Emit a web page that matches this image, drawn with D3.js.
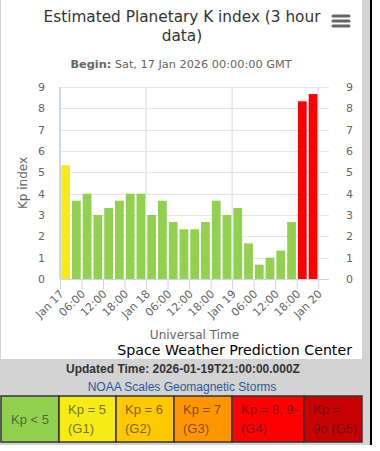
<!DOCTYPE html>
<html>
<head>
<meta charset="utf-8">
<script src="https://cdn.jsdelivr.net/npm/d3@7"></script>
<style>
body { margin: 0; background: #fff; }
text { font-family: 'DejaVu Sans', sans-serif; }
.html-text { font-family: 'Liberation Sans', Arial, sans-serif; }
</style>
</head>
<body>
<div id="chart"></div>
<script>
// data
var timeTags = [
	'2026-01-17T00:00:00Z', '2026-01-17T03:00:00Z', '2026-01-17T06:00:00Z', '2026-01-17T09:00:00Z',
	'2026-01-17T12:00:00Z', '2026-01-17T15:00:00Z', '2026-01-17T18:00:00Z', '2026-01-17T21:00:00Z',
	'2026-01-18T00:00:00Z', '2026-01-18T03:00:00Z', '2026-01-18T06:00:00Z', '2026-01-18T09:00:00Z',
	'2026-01-18T12:00:00Z', '2026-01-18T15:00:00Z', '2026-01-18T18:00:00Z', '2026-01-18T21:00:00Z',
	'2026-01-19T00:00:00Z', '2026-01-19T03:00:00Z', '2026-01-19T06:00:00Z', '2026-01-19T09:00:00Z',
	'2026-01-19T12:00:00Z', '2026-01-19T15:00:00Z', '2026-01-19T18:00:00Z', '2026-01-19T21:00:00Z'
];
var kpValues = [5.33, 3.67, 4, 3, 3.33, 3.67, 4, 4, 3, 3.67, 2.67, 2.33,
	2.33, 2.67, 3.67, 3, 3.33, 1.67, 0.67, 1, 1.33, 2.67, 8.33, 8.67];
var kpTicks = [0, 1, 2, 3, 4, 5, 6, 7, 8, 9];
var xStart = '2026-01-17T00:00:00Z', xEnd = '2026-01-20T03:00:00Z';

var legendLines = [['Kp < 5'], ['Kp = 5', '(G1)'], ['Kp = 6', '(G2)'], ['Kp = 7', '(G3)'],
	['Kp = 8, 9-', '(G4)'], ['Kp =', '9o (G5)']];
var legendColors = ['#92d050', '#f6eb14', '#ffc800', '#ff9600', '#ff0000', '#c80000'];

var titleLines = ['Estimated Planetary K index (3 hour', 'data)'];
var subtitle = ['Begin:', ' Sat, 17 Jan 2026 00:00:00 GMT'];
var updated = 'Updated Time: 2026-01-19T21:00:00.000Z';

function kpColor(kp) {
	if (kp < 5) return legendColors[0];
	if (kp < 6) return legendColors[1];
	if (kp < 7) return legendColors[2];
	if (kp < 8) return legendColors[3];
	if (kp < 9) return legendColors[4];
	return legendColors[5];
}

var width = 380, height = 451;
var svg = d3.select('#chart').append('svg').attr('width', width).attr('height', height);

// page frame
svg.append('rect').attr('x', 0).attr('y', 0).attr('width', 370).attr('height', 445).attr('fill', '#d3d3d3');
svg.append('rect').attr('x', 1).attr('y', 0).attr('width', 361).attr('height', 359).attr('fill', '#fff');
svg.append('rect').attr('x', 370).attr('y', 0).attr('width', 2).attr('height', 445).attr('fill', '#000');

// scales
var plot = {left: 60, right: 329, top: 87, bottom: 279};
var parse = d3.utcParse('%Y-%m-%dT%H:%M:%SZ');
var x = d3.scaleUtc().domain([parse(xStart), parse(xEnd)]).range([plot.left, plot.right]);
var y = d3.scaleLinear().domain([0, 9]).range([plot.bottom, plot.top]);

var data = timeTags.map(function(t, i) { return {t: parse(t), kp: kpValues[i]}; });

// horizontal grid
svg.append('g').selectAll('line')
	.data(kpTicks.slice(1))
	.enter().append('line')
	.attr('x1', plot.left).attr('x2', plot.right)
	.attr('y1', function(d) { return Math.round(y(d)) + 0.5; })
	.attr('y2', function(d) { return Math.round(y(d)) + 0.5; })
	.attr('stroke', '#e6e6e6');

// day grid
var days = d3.utcDay.range(parse(xStart), parse(xEnd));
svg.append('g').selectAll('line')
	.data(days)
	.enter().append('line')
	.attr('x1', function(d) { return x(d); }).attr('x2', function(d) { return x(d); })
	.attr('y1', plot.top).attr('y2', plot.bottom)
	.attr('stroke', function(d, i) { return i == 0 ? '#ccd6eb' : '#e6e6e6'; })
	.attr('stroke-width', function(d, i) { return i == 0 ? 2 : 1.5; });

// bars
var step = x(d3.utcHour.offset(data[0].t, 3)) - x(data[0].t);
svg.append('g').selectAll('rect')
	.data(data)
	.enter().append('rect')
	.attr('x', function(d) { return x(d.t) + 1.2; })
	.attr('width', step - 2)
	.attr('y', function(d) { return y(d.kp); })
	.attr('height', function(d) { return y(0) - y(d.kp); })
	.attr('fill', function(d) { return kpColor(d.kp); });

// x axis
var xAxis = d3.axisBottom(x)
	.ticks(d3.utcHour.every(6))
	.tickSize(10)
	.tickFormat(function(d) {
		return d.getUTCHours() == 0 ? d3.utcFormat('%b %d')(d).replace(' 0', ' ') : d3.utcFormat('%H:%M')(d);
	});
var gx = svg.append('g').attr('transform', 'translate(0,' + (plot.bottom + 0.5) + ')').call(xAxis);
gx.select('.domain').attr('stroke', '#ccd6eb').attr('d', 'M' + plot.left + ',0H' + plot.right);
gx.selectAll('.tick line').attr('stroke', '#ccd6eb');
gx.selectAll('.tick text')
	.attr('fill', '#666')
	.style('font-size', '11px')
	.attr('text-anchor', 'end')
	.attr('dy', null)
	.attr('y', 0)
	.attr('transform', 'translate(4,15) rotate(-45)');

// y axes
function styleY(g) {
	g.select('.domain').remove();
	g.selectAll('.tick line').remove();
	g.selectAll('.tick text').attr('fill', '#666').style('font-size', '11px');
}
svg.append('g').attr('transform', 'translate(' + (plot.left - 15) + ',0)')
	.call(d3.axisLeft(y).tickValues(kpTicks).tickSize(0).tickPadding(0)).call(styleY)
	.selectAll('.tick text').attr('x', 0);
svg.append('g').attr('transform', 'translate(' + (plot.right + 17) + ',0)')
	.call(d3.axisRight(y).tickValues(kpTicks).tickSize(0).tickPadding(0)).call(styleY)
	.selectAll('.tick text').attr('x', 0);

// titles
svg.append('g').selectAll('text')
	.data(titleLines)
	.enter().append('text')
	.attr('x', 182).attr('y', function(d, i) { return 22 + i * 19; })
	.attr('text-anchor', 'middle')
	.attr('fill', '#333')
	.style('font-size', '15.3px')
	.text(function(d) { return d; });

var sub = svg.append('text')
	.attr('x', 181).attr('y', 68)
	.attr('text-anchor', 'middle')
	.attr('fill', '#666')
	.style('font-size', '11.3px');
sub.append('tspan').style('font-weight', 'bold').text(subtitle[0]);
sub.append('tspan').text(subtitle[1]);

// menu icon
svg.append('g').selectAll('line')
	.data([16, 21, 26])
	.enter().append('line')
	.attr('x1', 333).attr('x2', 349)
	.attr('y1', function(d) { return d; }).attr('y2', function(d) { return d; })
	.attr('stroke', '#666').attr('stroke-width', 3).attr('stroke-linecap', 'round');

svg.append('text')
	.attr('transform', 'translate(27,' + ((plot.top + plot.bottom) / 2) + ') rotate(-90)')
	.attr('text-anchor', 'middle')
	.attr('fill', '#666')
	.style('font-size', '12px')
	.text('Kp index');

svg.append('text')
	.attr('x', (plot.left + plot.right) / 2).attr('y', 339)
	.attr('text-anchor', 'middle')
	.attr('fill', '#666')
	.style('font-size', '12px')
	.text('Universal Time');

svg.append('text')
	.attr('x', 352).attr('y', 355)
	.attr('text-anchor', 'end')
	.attr('fill', '#000')
	.style('font-size', '14.2px')
	.text('Space Weather Prediction Center');

// bottom info
svg.append('text')
	.attr('class', 'html-text')
	.attr('x', 183).attr('y', 373)
	.attr('text-anchor', 'middle')
	.attr('fill', '#333')
	.style('font-size', '12px').style('font-weight', 'bold')
	.text(updated);

svg.append('text')
	.attr('class', 'html-text')
	.attr('x', 182).attr('y', 391)
	.attr('text-anchor', 'middle')
	.attr('fill', '#1f5a9e')
	.style('font-size', '12px')
	.text('NOAA Scales Geomagnetic Storms');

// legend table
var cellEdges = [1, 59, 116, 174, 232, 304, 362];
var tableTop = 396, tableBottom = 442;
var cells = svg.append('g').selectAll('g')
	.data(legendLines)
	.enter().append('g')
	.attr('transform', function(d, i) { return 'translate(' + cellEdges[i] + ',' + tableTop + ')'; });
cells.append('rect')
	.attr('width', function(d, i) { return cellEdges[i + 1] - cellEdges[i]; })
	.attr('height', tableBottom - tableTop)
	.attr('fill', function(d, i) { return legendColors[i]; })
	.attr('stroke', '#333').attr('stroke-width', 1.5);
cells.each(function(lines, i) {
	var t = d3.select(this).append('text')
		.attr('class', 'html-text')
		.attr('fill', '#222').attr('fill-opacity', 0.62)
		.style('font-size', '13px');
	lines.forEach(function(l, j) {
		t.append('tspan')
			.attr('x', i == 0 ? 10 : 9)
			.attr('y', lines.length == 1 ? 28 : 18 + j * 19)
			.text(l);
	});
});
</script>
</body>
</html>
